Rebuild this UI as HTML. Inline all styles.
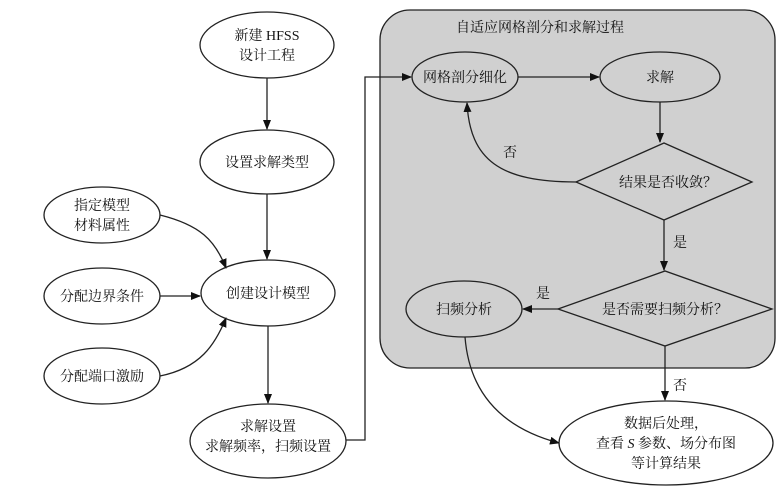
<!DOCTYPE html>
<html><head><meta charset="utf-8"><style>
body{margin:0;background:#fff}
svg text{font-family:"Liberation Serif","Noto Serif CJK SC","Noto Sans CJK SC",serif;font-size:14px;fill:#111;text-anchor:middle}
</style></head><body>
<svg width="779" height="496" viewBox="0 0 779 496" xmlns="http://www.w3.org/2000/svg">
<defs><marker id="a" markerWidth="10" markerHeight="8" refX="9" refY="4" orient="auto" markerUnits="userSpaceOnUse"><path d="M0,0 L10,4 L0,8z" fill="#111"/></marker></defs>
<rect x="380" y="10" width="395" height="358" rx="30" fill="#d0d0d0" stroke="#222" stroke-width="1.3"/>
<text x="540" y="32">自适应网格剖分和求解过程</text>
<g fill="#fff" stroke="#222" stroke-width="1.3">
<ellipse cx="267" cy="45" rx="67" ry="33"/>
<ellipse cx="267" cy="162" rx="67" ry="32"/>
<ellipse cx="102" cy="215" rx="58" ry="28"/>
<ellipse cx="102" cy="296" rx="58" ry="28"/>
<ellipse cx="102" cy="376" rx="58" ry="28"/>
<ellipse cx="268" cy="293" rx="67" ry="33"/>
<ellipse cx="268" cy="441" rx="78" ry="37"/>
<ellipse cx="666" cy="443" rx="107" ry="42"/>
</g>
<g fill="#d0d0d0" stroke="#222" stroke-width="1.3">
<ellipse cx="465" cy="77" rx="53" ry="25"/>
<ellipse cx="660" cy="77" rx="60" ry="25"/>
<polygon points="576,182 664,143 752,182 664,220"/>
<polygon points="558,309 665,271 772,309 665,346"/>
<ellipse cx="464" cy="309" rx="58" ry="28"/>
</g>
<g fill="none" stroke="#222" stroke-width="1.3" marker-end="url(#a)">
<line x1="267" y1="78" x2="267" y2="129"/>
<line x1="267" y1="194" x2="267" y2="259"/>
<path d="M160,215 C200,225 215,240 226,268"/>
<line x1="160" y1="296" x2="200" y2="296"/>
<path d="M160,376 C200,368 215,345 226,318"/>
<line x1="268" y1="326" x2="268" y2="403"/>
<polyline points="346,440 365,440 365,77 411,77"/>
<line x1="518" y1="77" x2="599" y2="77"/>
<line x1="660" y1="102" x2="660" y2="142"/>
<path d="M576,182 C500,182 470,160 467,103"/>
<line x1="664" y1="220" x2="664" y2="270"/>
<line x1="558" y1="309" x2="523" y2="309"/>
<line x1="665" y1="346" x2="665" y2="400"/>
<path d="M465,337 C470,400 510,430 559,443"/>
</g>
<text x="267" y="40">新建 HFSS</text><text x="267" y="60">设计工程</text>
<text x="267" y="167">设置求解类型</text>
<text x="102" y="210">指定模型</text><text x="102" y="230">材料属性</text>
<text x="102" y="301">分配边界条件</text>
<text x="102" y="381">分配端口激励</text>
<text x="268" y="298">创建设计模型</text>
<text x="268" y="431">求解设置</text><text x="268" y="451">求解频率，扫频设置</text>
<text x="465" y="82">网格剖分细化</text>
<text x="660" y="82">求解</text>
<text x="668" y="187">结果是否收敛？</text>
<text x="665" y="314">是否需要扫频分析？</text>
<text x="464" y="314">扫频分析</text>
<text x="510" y="157">否</text>
<text x="680" y="247">是</text>
<text x="543" y="298">是</text>
<text x="680" y="390">否</text>
<text x="666" y="428">数据后处理，</text>
<text x="666" y="448">查看 <tspan font-style="italic">S</tspan> 参数、场分布图</text>
<text x="666" y="468">等计算结果</text>
</svg>
</body></html>
